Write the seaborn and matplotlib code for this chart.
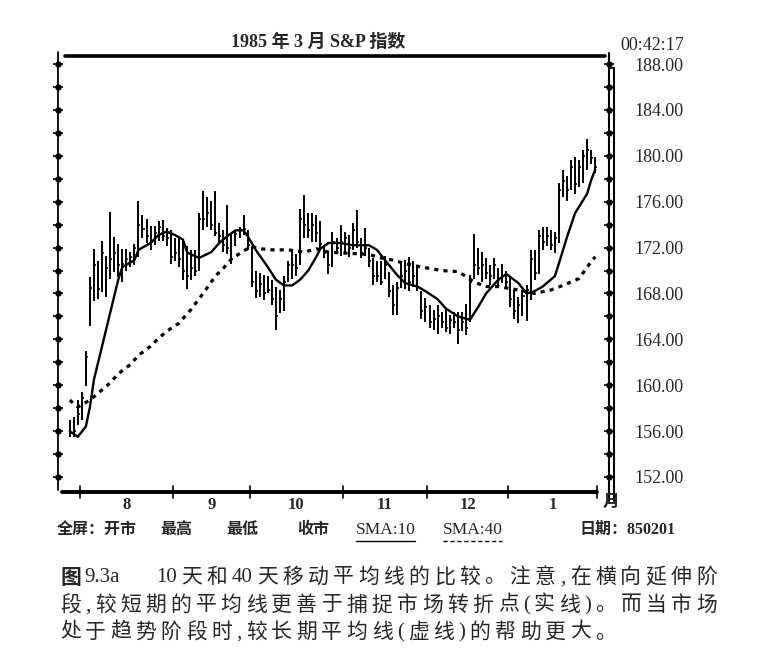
import re
import numpy as np
import matplotlib
matplotlib.use("Agg")
import matplotlib.pyplot as plt
import matplotlib.transforms as mtransforms
from matplotlib.lines import Line2D
from matplotlib.ticker import MultipleLocator, FixedLocator
import seaborn as sns

# ---- data (trading day index, 0 = 1 Aug 1984) ----
days = list(range(-3, 128))

highs = [157.0, 157.2, 158.7, 159.4, 163.0, 169.4, 171.9, 170.8, 172.6, 171.3,
         175.1, 172.9, 172.3, 171.9, 171.9, 171.6, 172.3, 176.1, 174.8, 174.5,
         173.9, 173.9, 174.3, 174.4, 173.7, 173.5,
         172.8, 172.8, 172.7, 172.1, 171.8, 171.8, 175.0, 176.9, 176.4, 176.1,
         176.9, 174.1, 173.5, 175.7, 173.2, 173.5, 173.8, 174.8, 173.5, 172.1,
         170.0, 169.8, 169.6, 169.5, 169.2, 168.6, 168.3,
         169.5, 170.8, 171.6, 171.4, 175.4, 176.6, 175.0, 175.0, 174.8, 174.3,
         172.2, 171.6, 173.4, 172.8, 174.0, 173.4, 173.1, 174.1, 175.3, 172.8,
         173.7, 172.0, 171.1, 170.8, 170.8, 171.3, 169.9,
         168.7, 169.0, 170.8, 170.9, 171.2, 170.8, 170.5, 168.2, 167.6, 167.0,
         166.6, 167.0, 166.4, 166.7, 166.1, 166.4, 166.4, 166.4, 167.1, 169.6,
         173.2, 172.0, 171.6, 171.1, 170.5, 171.1, 170.2,
         170.6, 170.0, 169.5, 168.3, 167.7, 168.3, 168.7, 171.8, 171.8, 173.5,
         173.8, 173.8, 173.5, 173.4, 177.6, 178.8, 178.2, 179.6, 179.9, 179.6,
         180.5, 181.5, 180.5, 179.9]

lows = [155.5, 155.5, 156.5, 157.0, 159.9, 165.2, 167.3, 167.5, 168.1, 167.7,
        169.3, 169.9, 169.4, 169.0, 170.0, 170.3, 170.5, 171.2, 172.8, 172.4,
        171.8, 172.2, 172.6, 172.6, 172.1, 170.6,
        170.8, 170.3, 169.2, 168.4, 169.2, 169.5, 170.0, 173.5, 173.8, 173.5,
        173.0, 172.5, 171.6, 171.4, 170.6, 172.1, 172.8, 173.1, 171.8, 168.6,
        167.6, 167.7, 167.4, 168.0, 167.0, 164.8, 166.3,
        166.5, 169.0, 169.3, 169.5, 170.5, 172.8, 172.8, 172.5, 172.5, 171.9,
        171.1, 169.7, 170.3, 171.4, 171.3, 171.6, 171.2, 171.8, 172.0, 171.1,
        171.3, 170.3, 168.7, 169.0, 168.7, 169.3, 167.7,
        166.1, 166.1, 168.5, 168.4, 168.2, 168.6, 168.2, 165.8, 165.5, 165.0,
        164.8, 164.5, 165.0, 164.6, 164.5, 165.0, 163.6, 164.7, 164.4, 165.5,
        169.3, 169.6, 169.0, 169.3, 168.7, 169.3, 168.7,
        168.9, 168.6, 166.8, 165.8, 165.4, 166.0, 165.6, 167.4, 169.2, 169.7,
        171.8, 172.1, 171.8, 171.5, 172.4, 176.4, 176.1, 177.0, 176.7, 177.3,
        177.6, 178.8, 179.3, 178.5]

closes = [155.8, 156.0, 157.5, 158.9, 162.5, 168.5, 170.5, 168.4, 171.5, 170.2,
          171.0, 171.5, 170.5, 170.6, 171.0, 171.2, 172.0, 174.0, 173.6, 173.0,
          172.5, 173.3, 173.8, 173.0, 172.8, 171.2,
          171.5, 171.0, 170.0, 169.5, 170.2, 170.0, 174.5, 174.5, 175.0, 174.0,
          173.3, 173.0, 172.2, 172.0, 171.0, 173.2, 173.5, 173.6, 172.2, 169.0,
          168.2, 168.8, 168.0, 168.3, 167.5, 166.0, 167.5,
          169.0, 170.5, 170.5, 170.2, 174.5, 174.0, 173.5, 174.0, 173.3, 172.3,
          171.5, 170.5, 172.5, 172.0, 172.5, 172.8, 172.0, 173.5, 172.5, 171.5,
          172.0, 170.8, 169.5, 169.5, 169.0, 170.5, 168.2,
          167.0, 168.5, 169.5, 170.0, 169.0, 169.5, 168.6, 166.5, 166.8, 165.5,
          165.8, 166.0, 165.5, 165.0, 165.7, 165.5, 164.8, 165.5, 165.0, 169.0,
          170.5, 170.2, 170.5, 169.8, 169.5, 170.5, 169.2,
          169.5, 169.0, 167.5, 166.5, 167.0, 167.8, 168.3, 171.0, 169.8, 173.0,
          172.5, 173.0, 172.2, 172.8, 177.0, 177.8, 177.0, 179.0, 177.5, 179.0,
          180.0, 180.5, 179.8, 179.0]

# 10-day moving average (solid)
sma10_days = [-3, -1, 1, 2, 3, 5, 7, 9, 10, 13, 14, 17, 19, 21, 23, 25, 26, 27,
              29, 32, 34, 36, 38, 40, 41, 43, 46, 48, 50, 52, 54, 56, 58, 59,
              61, 64, 67, 71, 73, 75, 78, 80, 83, 85, 88, 90, 93, 96, 98, 100,
              103, 105, 108, 110, 112, 114, 117, 118, 120, 122, 125, 126, 127]
sma10_vals = [156.0, 155.5, 156.4, 158.1, 160.5, 163.4, 166.3, 169.2, 170.3,
              170.9, 171.8, 172.4, 173.1, 173.4, 173.1, 172.7, 171.6, 171.4,
              171.1, 171.6, 172.4, 173.0, 173.5, 173.5, 173.0, 171.8, 170.3,
              169.2, 168.7, 168.7, 169.2, 170.0, 171.2, 171.9, 172.4, 172.4,
              172.2, 172.2, 171.8, 170.9, 169.6, 168.9, 168.6, 168.2, 167.5,
              166.7, 166.0, 165.7, 166.8, 168.0, 169.2, 169.7, 168.9, 168.0,
              168.2, 168.6, 169.5, 170.6, 172.9, 175.0, 176.7, 177.9, 178.8]

# 40-day moving average (dotted)
sma40_days = [-3, -1, 2, 4, 7, 9, 12, 14, 17, 19, 21, 24, 27, 30, 33, 35, 37,
              40, 42, 44, 47, 51, 55, 58, 61, 66, 71, 74, 77, 80, 84, 89, 93,
              95, 97, 100, 103, 108, 112, 116, 119, 123, 125, 127]
sma40_vals = [158.7, 158.1, 158.7, 159.3, 160.2, 161.0, 161.8, 162.6, 163.4,
              164.1, 164.7, 165.4, 166.6, 168.0, 169.5, 170.2, 171.0, 171.7,
              172.1, 171.9, 171.8, 171.8, 171.6, 171.9, 171.6, 171.5, 171.4,
              171.1, 170.9, 170.6, 170.3, 170.0, 169.9, 169.5, 169.0, 168.6,
              168.6, 168.3, 168.0, 168.3, 168.7, 169.3, 170.3, 171.2]

month_edges = [-0.5, 22.5, 41.5, 64.5, 85.5, 105.5, 127.5]
month_labels = ["8", "9", "10", "11", "12", "1"]
price_ticks = [152, 156, 160, 164, 168, 172, 176, 180, 184, 188]

W, H = 775, 664
FAM = ["Liberation Serif", "Noto Sans CJK SC", "DejaVu Sans"]
CJK = ["Noto Sans CJK SC", "DejaVu Sans"]

sns.set_style("white")
plt.rcParams["font.family"] = FAM


def fx(px):
    return px / W


def fy(py):
    return 1 - py / H


fig = plt.figure(figsize=(W / 100, H / 100), dpi=100)
ax = fig.add_axes([fx(58), fy(492), (609 - 58) / W, (492 - 56) / H])
ax.set_xlim(-5.9, 130.4)
ax.set_ylim(150.69, 188.70)
for s in ax.spines.values():
    s.set_visible(False)

# price bars
ax.vlines(days, lows, highs, color="black", lw=1.4)
ax.hlines(closes, np.array(days), np.array(days) + 0.5, color="black", lw=1.2)

# moving averages
sns.lineplot(x=sma10_days, y=sma10_vals, ax=ax, color="black", lw=1.7)
sns.lineplot(x=sma40_days, y=sma40_vals, ax=ax, color="black", lw=2.3,
             linestyle=(0, (1.3, 1.6)))
ax.set_xlabel("")
ax.set_ylabel("")

# frame lines
kw = dict(transform=ax.transAxes, color="black", clip_on=False)
ax.plot([0.013, 0.993], [1, 1], lw=2.6, **kw)
ax.plot([0, 0], [0.005, 1.01], lw=1.3, **kw)
ax.plot([1, 1], [-0.02, 1.007], lw=1.5, **kw)
ax.plot([1.009, 1.009], [-0.02, 0.972], lw=1.5, **kw)
ax.plot([1, 1.009], [0.972, 0.972], lw=1.2, **kw)
ax.plot([0.007, 0.978], [0, 0], lw=2.8, **kw)

# y ticks: dots every 2, labels every 4 on the right
ax.yaxis.set_major_locator(FixedLocator(price_ticks))
ax.yaxis.set_minor_locator(MultipleLocator(2))
ax.set_yticklabels([f"{v:.2f}" for v in price_ticks])
ax.tick_params(axis="y", which="both", left=True, right=True, labelleft=False,
               labelright=True, direction="inout", length=7, width=1.4,
               pad=15, labelsize=13)
ax.set_xticks([])
even = np.arange(152, 189, 2)
blend = mtransforms.blended_transform_factory(ax.transAxes, ax.transData)
ax.plot(np.zeros_like(even), even, "o", ms=3.6, color="black",
        transform=blend, clip_on=False)
ax.plot(np.ones_like(even), even, "o", ms=3.6, color="black",
        transform=blend, clip_on=False)

# month ticks and labels
xblend = ax.get_xaxis_transform()
for e in month_edges:
    ax.plot([e, e], [-0.014, 0.014], color="black", lw=1.2,
            transform=xblend, clip_on=False)
for i, lab in enumerate(month_labels):
    mid = (month_edges[i] + month_edges[i + 1]) / 2
    ax.text(mid, -0.03, lab, transform=xblend, ha="center", va="center",
            fontsize=12, fontweight="bold")

# header texts
fig.text(fx(318), fy(42), "1985 年 3 月 S&P 指数", ha="center", va="center",
         fontsize=13, fontweight="bold")
fig.text(fx(620), fy(45), "00:42:17", ha="left", va="center", fontsize=13)
fig.text(fx(611), fy(503), "月", ha="center", va="center", fontsize=12,
         fontweight="bold")

# legend row
row_y = fy(530)
fig.text(fx(57), row_y, "全屏：开市", ha="left", va="center", fontsize=11.5,
         fontweight="bold")
for txt, px in [("最高", 160), ("最低", 226), ("收市", 297)]:
    fig.text(fx(px), row_y, txt, ha="left", va="center", fontsize=11.5,
             fontweight="bold")
fig.text(fx(356), row_y, "SMA:10", ha="left", va="center", fontsize=12.5)
fig.text(fx(443), row_y, "SMA:40", ha="left", va="center", fontsize=12.5)
fig.text(fx(580), row_y, "日期：850201", ha="left", va="center", fontsize=11.5,
         fontweight="bold")
fig.add_artist(Line2D([fx(356), fx(415)], [fy(541), fy(541)], color="black",
                      lw=1.0))
fig.add_artist(Line2D([fx(443), fx(502)], [fy(541), fy(541)], color="black",
                      lw=1.0, linestyle=(0, (3, 2))))

# caption, laid out token by token to mimic the justified book text
renderer = fig.canvas.get_renderer()


def lay_out(text, x0, py, x1=None, gap=None, size=15, weight="normal"):
    toks = re.findall(r"[A-Za-z0-9.]+|.", text)
    arts, widths = [], []
    for tk in toks:
        t = fig.text(fx(x0), fy(py), tk, ha="left", va="center",
                     fontsize=size, fontweight=weight)
        arts.append(t)
        widths.append(t.get_window_extent(renderer=renderer).width)
    if gap is None:
        gap = (x1 - x0 - sum(widths)) / (len(toks) - 1)
    x = x0
    for t, w in zip(arts, widths):
        t.set_x(fx(x))
        x += w + gap
    return gap


fig.text(fx(60), fy(578), "图", ha="left", va="center", fontsize=15,
         fontweight="bold", family=CJK)
fig.text(fx(84), fy(578), "9.3a", ha="left", va="center", fontsize=15)
lay_out("10天和40天移动平均线的比较。注意,在横向延伸阶", 156, 578, x1=717)
g = lay_out("段,较短期的平均线更善于捕捉市场转折点(实线)。而当市场", 60, 606, x1=717)
lay_out("处于趋势阶段时,较长期平均线(虚线)的帮助更大。", 60, 633, gap=g)

fig.savefig("out.png", dpi=100)
